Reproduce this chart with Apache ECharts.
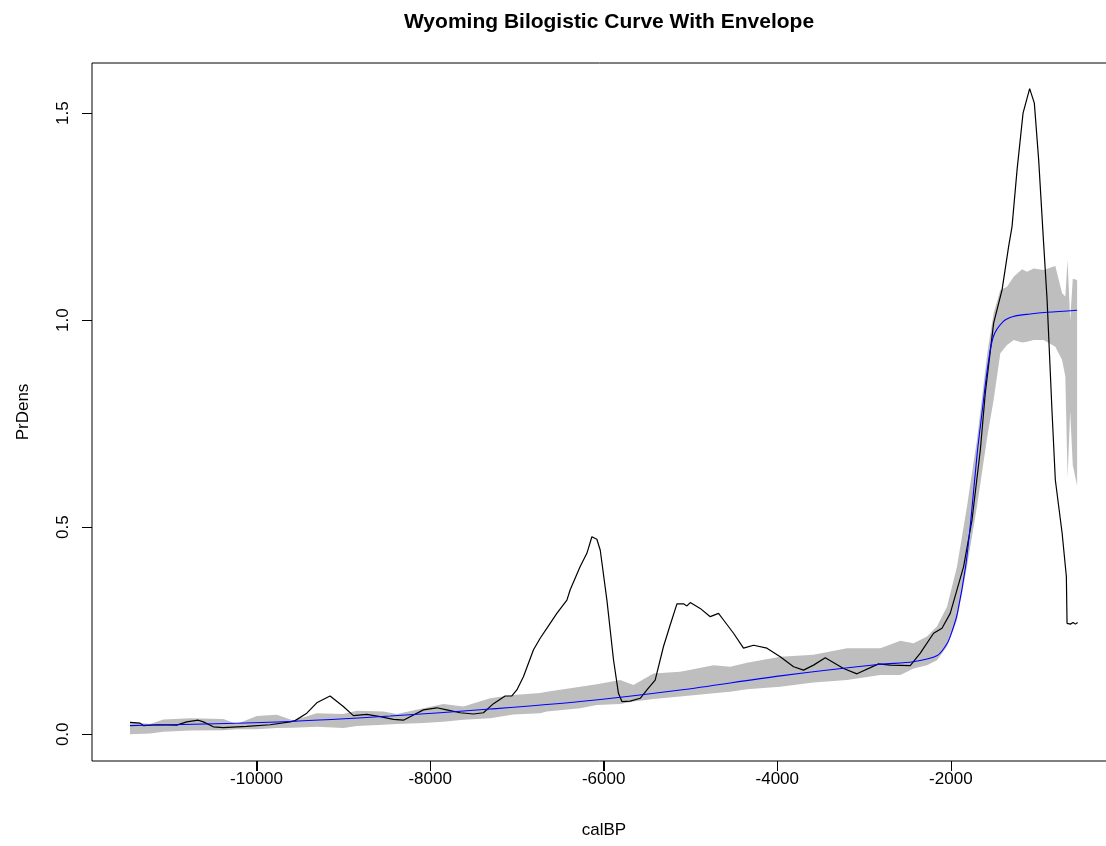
<!DOCTYPE html>
<html>
<head>
<meta charset="utf-8">
<title>Wyoming Bilogistic Curve With Envelope</title>
<script src="https://cdn.jsdelivr.net/npm/echarts@6/dist/echarts.min.js"></script>
<style>
  html, body { margin: 0; padding: 0; background: #ffffff; }
  #chart { width: 1106px; height: 846px; }
</style>
</head>
<body>
<div id="chart"></div>
<script>
// Summed probability density (black curve)
const spdYears = [-11458,-11343,-11305,-11150,-10920,-10805,-10671,-10613,-10498,-10383,-10113,-9844,-9614,-9556,-9421,-9306,-9153,-9000,-8884,-8730,-8576,-8423,-8308,-8231,-8077,-7923,-7808,-7654,-7501,-7386,-7270,-7136,-7058,-7001,-6925,-6809,-6732,-6617,-6540,-6424,-6386,-6271,-6194,-6136,-6079,-6040,-5963,-5887,-5830,-5790,-5695,-5579,-5502,-5407,-5311,-5234,-5156,-5080,-5041,-5003,-4888,-4772,-4677,-4619,-4504,-4389,-4273,-4119,-3966,-3812,-3697,-3582,-3447,-3236,-3082,-2833,-2698,-2468,-2352,-2199,-2102,-2007,-1853,-1756,-1660,-1603,-1507,-1410,-1334,-1295,-1237,-1168,-1092,-1038,-988,-931,-891,-835,-796,-718,-669,-661,-623,-592,-565,-539];
const spdValues = [0.029,0.027,0.021,0.023,0.022,0.030,0.034,0.030,0.018,0.016,0.019,0.023,0.030,0.033,0.051,0.076,0.0925,0.067,0.045,0.048,0.0425,0.036,0.034,0.0425,0.059,0.064,0.059,0.052,0.049,0.052,0.074,0.0925,0.0925,0.107,0.139,0.204,0.232,0.268,0.292,0.324,0.349,0.405,0.437,0.477,0.471,0.445,0.324,0.18,0.099,0.079,0.080,0.087,0.107,0.131,0.212,0.264,0.315,0.315,0.31,0.318,0.304,0.284,0.292,0.276,0.244,0.208,0.215,0.208,0.187,0.163,0.155,0.167,0.185,0.159,0.146,0.17,0.167,0.166,0.196,0.244,0.256,0.292,0.405,0.518,0.687,0.824,0.993,1.073,1.178,1.226,1.363,1.5,1.559,1.524,1.387,1.186,1.049,0.783,0.614,0.486,0.381,0.268,0.266,0.27,0.266,0.27];

// Fitted bilogistic curve (blue)
const fitYears = [-11458,-9614,-8461,-7308,-6271,-5118,-3966,-2813,-2433,-2156,-2041,-1984,-1925,-1830,-1773,-1696,-1637,-1580,-1511,-1395,-1280,-1084,-891,-545];
const fitValues = [0.021,0.031,0.044,0.061,0.079,0.107,0.141,0.169,0.175,0.19,0.22,0.25,0.292,0.405,0.51,0.679,0.783,0.88,0.96,0.997,1.009,1.015,1.019,1.024];

// Simulation envelope (grey band)
const envYears = [-11458,-11228,-11074,-10767,-10383,-10228,-9998,-9767,-9576,-9306,-9000,-8845,-8538,-8384,-8077,-7847,-7616,-7308,-7040,-6732,-6655,-6271,-6079,-5810,-5657,-5426,-5118,-4734,-4542,-4349,-3966,-3582,-3197,-2813,-2582,-2429,-2275,-2160,-2044,-1929,-1814,-1699,-1580,-1507,-1430,-1353,-1276,-1180,-1122,-1046,-931,-796,-718,-681,-655,-625,-595,-545];
const envLower = [0.000,0.002,0.006,0.009,0.010,0.012,0.012,0.015,0.016,0.018,0.015,0.020,0.023,0.025,0.027,0.030,0.035,0.039,0.048,0.051,0.055,0.063,0.071,0.073,0.079,0.085,0.091,0.099,0.103,0.109,0.115,0.125,0.131,0.143,0.143,0.159,0.167,0.179,0.212,0.276,0.405,0.55,0.719,0.807,0.92,0.94,0.952,0.946,0.948,0.952,0.952,0.936,0.904,0.864,0.62,0.78,0.65,0.60];
const envUpper = [0.030,0.025,0.036,0.039,0.037,0.025,0.044,0.047,0.033,0.051,0.049,0.057,0.055,0.049,0.063,0.073,0.067,0.087,0.095,0.100,0.103,0.115,0.121,0.131,0.119,0.147,0.151,0.167,0.163,0.173,0.187,0.192,0.208,0.208,0.226,0.22,0.236,0.26,0.308,0.405,0.55,0.711,0.92,1.017,1.073,1.081,1.105,1.123,1.117,1.125,1.121,1.131,1.065,1.057,1.146,1.0,1.10,1.097];

// Axis ticks
const xTicks = [-10000, -8000, -6000, -4000, -2000];
const yTicks = [0, 0.5, 1.0, 1.5];

const X_MIN = -11896, X_MAX = -97;
const Y_MIN = -0.0645, Y_MAX = 1.621;
const TICK_LEN = 10;

const FONT = '"Liberation Sans", Arial, Helvetica, sans-serif';

const pairs = (xs, ys) => xs.map((x, i) => [x, ys[i]]);

// Band drawn as one polygon: upper edge left→right, lower edge right→left
function renderEnvelope(params, api) {
  if (params.dataIndex !== 0) return null;
  const pts = [];
  for (let i = 0; i < envYears.length; i++) pts.push(api.coord([envYears[i], envUpper[i]]));
  for (let i = envYears.length - 1; i >= 0; i--) pts.push(api.coord([envYears[i], envLower[i]]));
  return {
    type: 'polygon',
    shape: { points: pts },
    style: { fill: '#bebebe', stroke: null },
    silent: true
  };
}

const chart = echarts.init(document.getElementById('chart'), null, { renderer: 'canvas' });

chart.setOption({
  animation: false,
  backgroundColor: '#ffffff',
  title: {
    text: 'Wyoming Bilogistic Curve With Envelope',
    left: 604,
    textAlign: 'center',
    top: 7,
    textStyle: { fontFamily: FONT, fontSize: 21, fontWeight: 'bold', color: '#000' }
  },
  grid: {
    left: 92, top: 63, right: -10, bottom: 85,
    containLabel: false,
    outerBoundsMode: 'none',
    show: true,
    borderColor: '#000',
    borderWidth: 1,
    backgroundColor: 'transparent'
  },
  xAxis: {
    type: 'value',
    min: X_MIN,
    max: X_MAX,
    name: 'calBP',
    nameLocation: 'middle',
    nameGap: 61,
    nameTextStyle: { fontFamily: FONT, fontSize: 17, color: '#000' },
    // the x axis sits on the zero of the helper y axis, i.e. the bottom edge
    axisLine: { show: false, onZero: true, onZeroAxisIndex: 1 },
    axisTick: { show: true, inside: false, length: TICK_LEN, customValues: xTicks, lineStyle: { color: '#000', width: 1 } },
    axisLabel: {
      customValues: xTicks, margin: 10, fontFamily: FONT, fontSize: 17, color: '#000',
      formatter: v => String(v)
    },
    splitLine: { show: false }
  },
  yAxis: [
    {
      type: 'value',
      min: Y_MIN,
      max: Y_MAX,
      name: 'PrDens',
      nameLocation: 'middle',
      nameGap: 60,
      nameTextStyle: { fontFamily: FONT, fontSize: 17, color: '#000' },
      axisLine: { show: false, onZero: false },
      axisTick: { show: true, inside: false, length: TICK_LEN, customValues: yTicks, lineStyle: { color: '#000', width: 1 } },
      axisLabel: {
        customValues: yTicks, rotate: 90, margin: 20,
        fontFamily: FONT, fontSize: 17, color: '#000',
        formatter: v => v.toFixed(1)
      },
      splitLine: { show: false }
    },
    {
      // helper axis whose zero lies on the bottom edge of the plot box
      type: 'value',
      min: 0,
      max: 1,
      show: false
    }
  ],
  series: [
    {
      name: 'envelope',
      type: 'custom',
      renderItem: renderEnvelope,
      data: pairs(envYears, envLower),
      encode: { x: 0, y: 1 },
      yAxisIndex: 0,
      silent: true,
      clip: true,
      z: 1
    },
    {
      name: 'SPD',
      type: 'line',
      data: pairs(spdYears, spdValues),
      yAxisIndex: 0,
      showSymbol: false,
      symbol: 'none',
      lineStyle: { color: '#000000', width: 1.2 },
      z: 3
    },
    {
      name: 'Bilogistic fit',
      type: 'line',
      data: pairs(fitYears, fitValues),
      yAxisIndex: 0,
      smooth: 0.3,
      showSymbol: false,
      symbol: 'none',
      lineStyle: { color: '#0000ff', width: 1.1 },
      z: 4
    }
  ]
});

// Outward x tick marks under the plot box, placed through the x scale
chart.setOption({
  graphic: xTicks.map(v => {
    const p = chart.convertToPixel({ xAxisIndex: 0, yAxisIndex: 0 }, [v, Y_MIN]);
    const x = Math.round(p[0]) + 0.5;
    return {
      type: 'line',
      silent: true,
      zlevel: 1,
      z: 100,
      shape: { x1: x, y1: Math.round(p[1]), x2: x, y2: Math.round(p[1]) + TICK_LEN },
      style: { stroke: '#000000', lineWidth: 1 }
    };
  })
});
</script>
</body>
</html>
